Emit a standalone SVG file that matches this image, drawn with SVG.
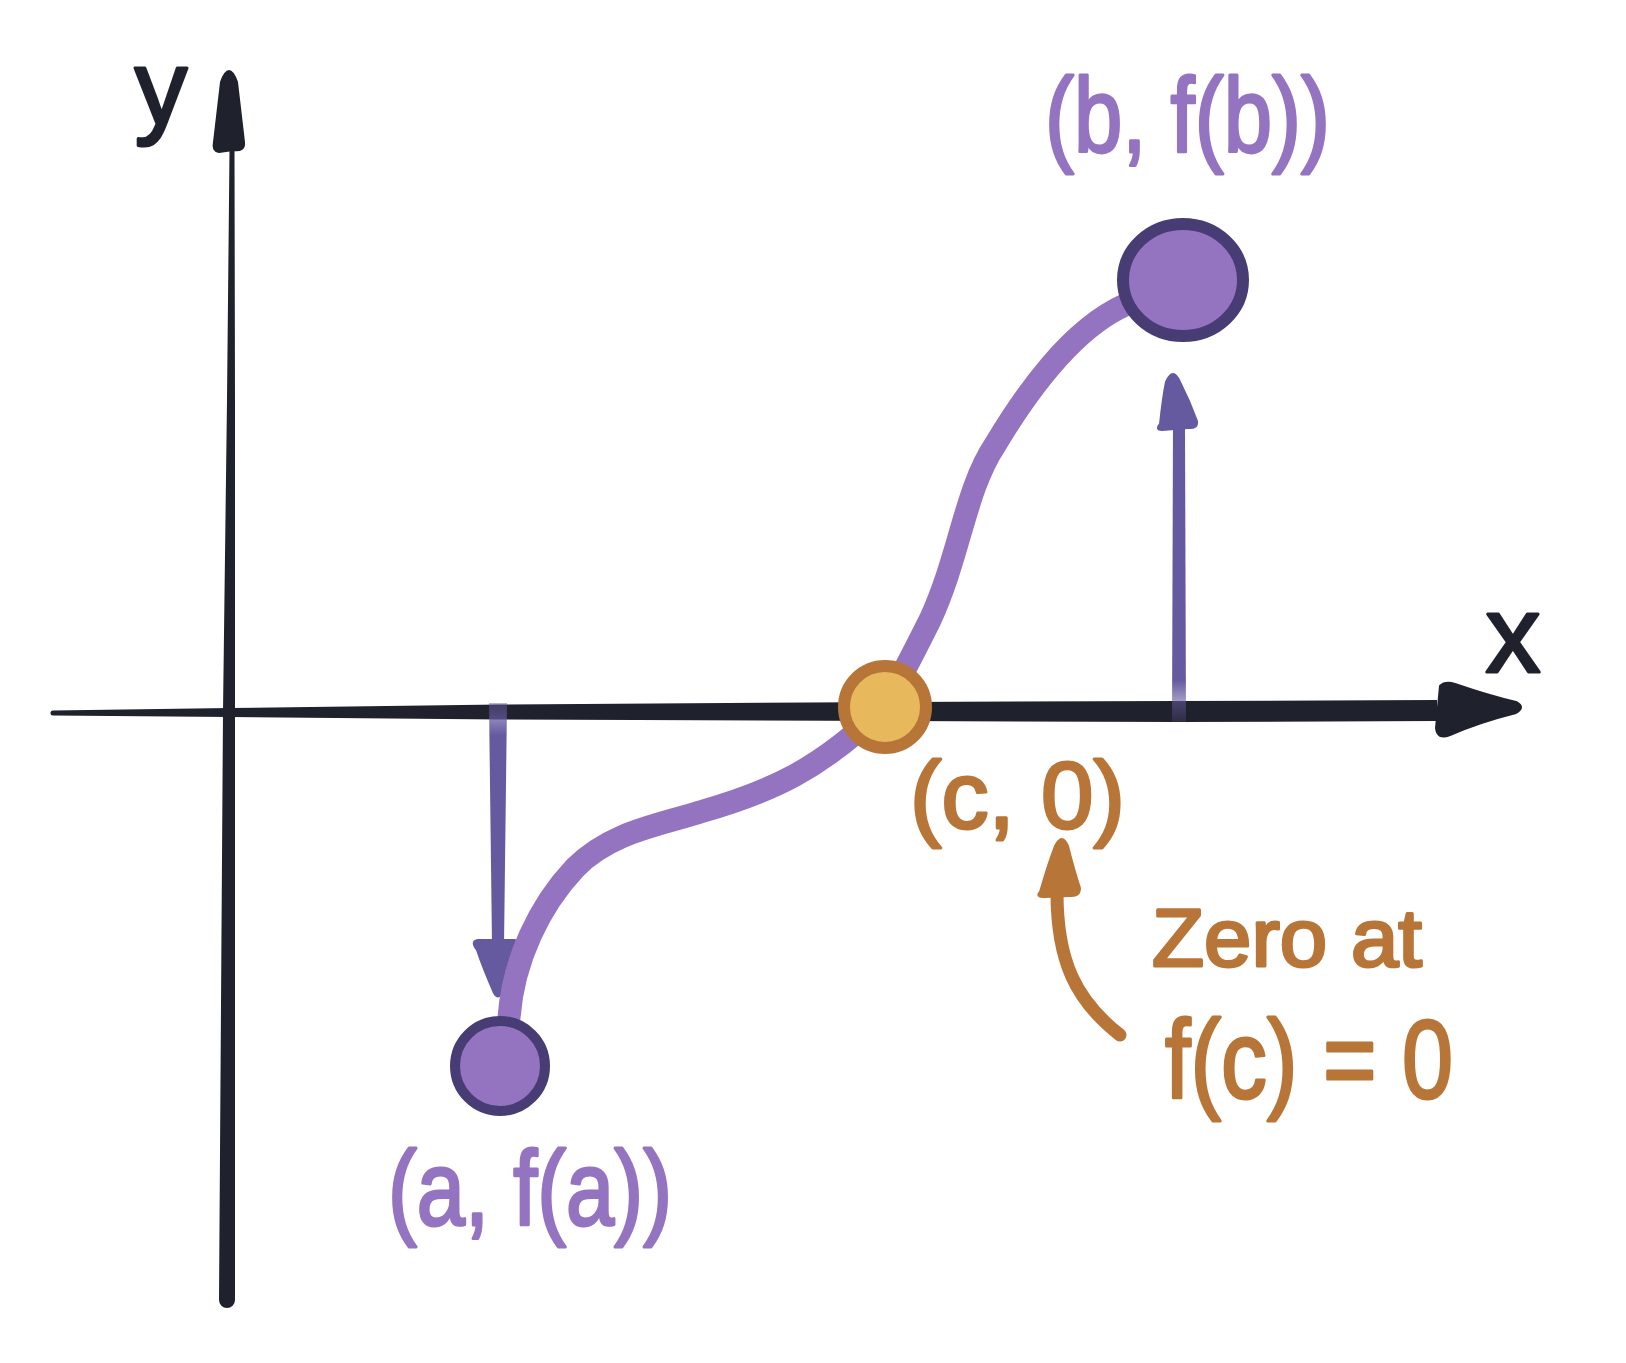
<svg xmlns="http://www.w3.org/2000/svg" width="1626" height="1363" viewBox="0 0 1626 1363">
  <style>
    .lbl { font-family: "Liberation Sans", Arial, sans-serif; stroke-width: 3; stroke-linejoin: round; }
    .dark { fill: #1f212c; stroke: #1f212c; }
    .purple { fill: #9474c0; stroke: #9474c0; }
    .orange { fill: #b87538; stroke: #b87538; }
    .curve { fill: none; stroke: #9474c0; stroke-width: 23; stroke-linecap: round; stroke-linejoin: round; }
    .pt { fill: #9474c0; stroke: #483c74; }
    .arrowP { fill: #655a9f; stroke: #655a9f; stroke-width: 2; stroke-linejoin: round; }
  </style>
  <defs>
    <linearGradient id="fadeDown" gradientUnits="userSpaceOnUse" x1="0" y1="702" x2="0" y2="735">
      <stop offset="0" stop-color="#655a9f" stop-opacity="0.45"/>
      <stop offset="1" stop-color="#655a9f" stop-opacity="1"/>
    </linearGradient>
    <linearGradient id="fadeUp" gradientUnits="userSpaceOnUse" x1="0" y1="722" x2="0" y2="680">
      <stop offset="0" stop-color="#655a9f" stop-opacity="0.2"/>
      <stop offset="1" stop-color="#655a9f" stop-opacity="1"/>
    </linearGradient>
  </defs>
  <rect width="1626" height="1363" fill="#ffffff"/>

  <g id="axes">
    <!-- y axis -->
    <path d="M229.5,150 L234.5,150 L235,400 L235,712 L235,1300 A8,8 0 0 1 219,1300 L223,712 L227,400 Z" fill="#1f212c"/>
    <path d="M221,82 Q229,60 237,82 L244,142 Q245,152 233,150 L219,152 Q212,151 214,142 Z" fill="#1f212c" stroke="#1f212c" stroke-width="2" stroke-linejoin="round"/>
    <!-- x axis -->
    <path d="M53,710.5 L230,708 L500,704.5 L900,702 L1180,701 L1437,700 L1437,721 L1180,722 L900,721 L500,719.5 L230,717 L53,715.5 A2.5,2.5 0 0 1 53,710.5 Z" fill="#1f212c"/>
    <path d="M1440,686 Q1445,681 1455,684 Q1490,696 1516,702 Q1526,707 1516,713 Q1480,722 1450,735 Q1437,740 1436,728 Z" fill="#1f212c" stroke="#1f212c" stroke-width="2" stroke-linejoin="round"/>
  </g>

  <g id="axis-labels">
    <text class="lbl dark" x="161" y="124" font-size="105" text-anchor="middle">y</text>
    <text class="lbl dark" x="1513" y="672" font-size="110" text-anchor="middle">x</text>
  </g>

  <g id="connectors">
    <!-- down arrow from x axis to f(a) -->
    <path d="M489,703 L507,703 L504,945 L492,945 Z" fill="url(#fadeDown)"/>
    <path class="arrowP" d="M478,940 L515,940 Q511,968 502,993 Q498,1000 494,993 Q483,968 477,950 Q470,941 478,940 Z"/>
    <!-- up arrow from x axis to f(b) -->
    <path d="M1172,722 L1186,722 L1185,425 L1173,425 Z" fill="url(#fadeUp)"/>
    <path class="arrowP" d="M1160,424 Q1163,396 1166,382 Q1173,366 1180,382 Q1190,402 1197,421 Q1198,429 1188,428 L1162,430 Q1155,430 1160,424 Z"/>
    <!-- function curve -->
    <path class="curve" d="M509,1018 C513,960 540,905 575,868 C610,832 660,825 700,812 C770,792 820,770 884,707 C900,680 915,650 930,620 C960,555 965,490 995,445 C1025,395 1070,330 1125,305"/>
    <!-- orange annotation arrow -->
    <path d="M1057,893 C1057,960 1075,1000 1120,1035" fill="none" stroke="#b87538" stroke-width="13" stroke-linecap="round"/>
    <path d="M1040,892 Q1048,864 1055,846 Q1062,832 1068,846 Q1074,870 1080,888 Q1080,897 1070,896 L1045,897 Q1035,897 1040,892 Z" fill="#b87538" stroke="#b87538" stroke-width="2" stroke-linejoin="round"/>
  </g>

  <g id="node-a">
    <circle class="pt" cx="500" cy="1066" r="45" stroke-width="10"/>
    <text class="lbl purple" x="388" y="1225" font-size="105" textLength="284" lengthAdjust="spacingAndGlyphs">(a, f(a))</text>
  </g>

  <g id="node-b">
    <ellipse class="pt" cx="1183" cy="280" rx="60" ry="56" stroke-width="12"/>
    <text class="lbl purple" x="1045" y="152" font-size="105" textLength="285" lengthAdjust="spacingAndGlyphs">(b, f(b))</text>
  </g>

  <g id="node-c">
    <circle cx="885" cy="707" r="41" fill="#e8b85c" stroke="#b87538" stroke-width="12"/>
    <text class="lbl orange" x="910" y="828" font-size="95" textLength="215" lengthAdjust="spacingAndGlyphs">(c, 0)</text>
  </g>

  <g id="note">
    <text class="lbl orange" x="1152" y="966" font-size="82" textLength="270" lengthAdjust="spacingAndGlyphs">Zero at</text>
    <text class="lbl orange" x="1165" y="1098" font-size="112" textLength="288" lengthAdjust="spacingAndGlyphs">f(c) = 0</text>
  </g>
</svg>
